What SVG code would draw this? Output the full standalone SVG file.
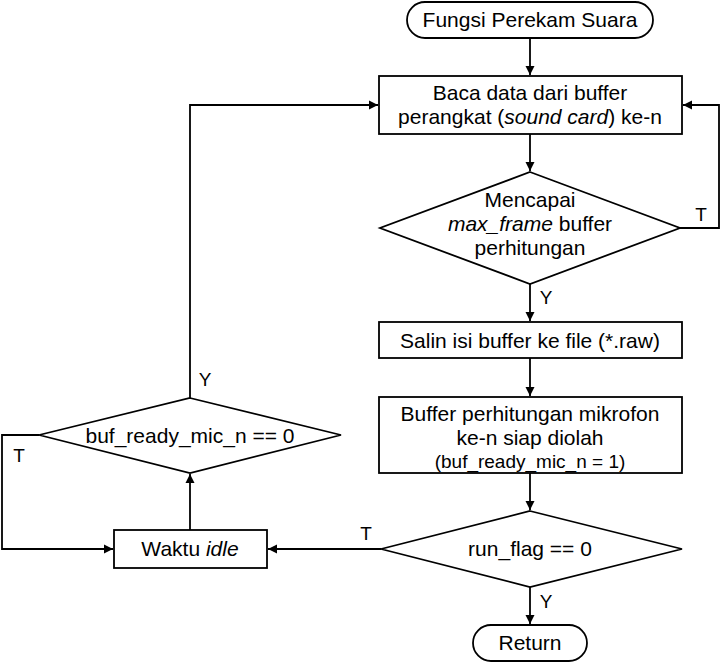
<svg xmlns="http://www.w3.org/2000/svg" width="722" height="664" viewBox="0 0 722 664">
<style>
.s{fill:#fff;stroke:#000;stroke-width:1.8}
.c{fill:none;stroke:#000;stroke-width:1.8}
text{font-family:"Liberation Sans",Arial,sans-serif;font-size:21px;fill:#000;text-anchor:middle}
.sm{font-size:19px}
.l{font-size:19px}
</style>
<defs>
<marker id="a" markerWidth="10" markerHeight="10" refX="9" refY="5" orient="auto" markerUnits="userSpaceOnUse">
<path d="M0,0.5 L9,5 L0,9.5 Z" fill="#000"/>
</marker>
</defs>
<g id="connectors">
<path class="c" d="M530,38 V75" marker-end="url(#a)"/>
<path class="c" d="M530,134 V171" marker-end="url(#a)"/>
<path class="c" d="M680,228 H719 V105 H683" marker-end="url(#a)"/>
<path class="c" d="M530,284 V321" marker-end="url(#a)"/>
<path class="c" d="M530,358 V396" marker-end="url(#a)"/>
<path class="c" d="M530,473 V510" marker-end="url(#a)"/>
<path class="c" d="M530,587 V624" marker-end="url(#a)"/>
<path class="c" d="M381,549 H268" marker-end="url(#a)"/>
<path class="c" d="M190,530 V474" marker-end="url(#a)"/>
<path class="c" d="M39,435 H2 V549 H113" marker-end="url(#a)"/>
<path class="c" d="M190,398 V105 H378" marker-end="url(#a)"/>
<text x="701" y="221" class="l">T</text>
<text x="546" y="304" class="l">Y</text>
<text x="366" y="540" class="l">T</text>
<text x="546" y="608" class="l">Y</text>
<text x="205" y="386" class="l">Y</text>
<text x="19" y="462" class="l">T</text>
</g>
<g id="start">
<rect class="s" x="407" y="2" width="246" height="36" rx="18"/>
<text x="530" y="27">Fungsi Perekam Suara</text>
</g>
<g id="read">
<rect class="s" x="379" y="76" width="303" height="58"/>
<text x="530" y="100">Baca data dari buffer</text>
<text x="530" y="124">perangkat (<tspan font-style="italic">sound card</tspan>) ke-n</text>
</g>
<g id="maxframe">
<polygon class="s" points="530,172 680,228 530,284 380,228"/>
<text x="530" y="207">Mencapai</text>
<text x="530" y="231"><tspan font-style="italic">max_frame</tspan> buffer</text>
<text x="530" y="255">perhitungan</text>
</g>
<g id="copy">
<rect class="s" x="379" y="322" width="303" height="36"/>
<text x="530" y="348">Salin isi buffer ke file (*.raw)</text>
</g>
<g id="ready">
<rect class="s" x="379" y="397" width="303" height="76"/>
<text x="530" y="421">Buffer perhitungan mikrofon</text>
<text x="530" y="445">ke-n siap diolah</text>
<text x="530" y="468" class="sm">(buf_ready_mic_n = 1)</text>
</g>
<g id="runflag">
<polygon class="s" points="530,511 682,549 530,587 381,549"/>
<text x="530" y="556">run_flag == 0</text>
</g>
<g id="return">
<rect class="s" x="473" y="625" width="114" height="36" rx="18"/>
<text x="530" y="650">Return</text>
</g>
<g id="idle">
<rect class="s" x="114" y="530" width="153" height="38"/>
<text x="190" y="556">Waktu <tspan font-style="italic">idle</tspan></text>
</g>
<g id="bufready">
<polygon class="s" points="190,398 341,435 190,473 39,435"/>
<text x="190" y="443">buf_ready_mic_n == 0</text>
</g>
</svg>
